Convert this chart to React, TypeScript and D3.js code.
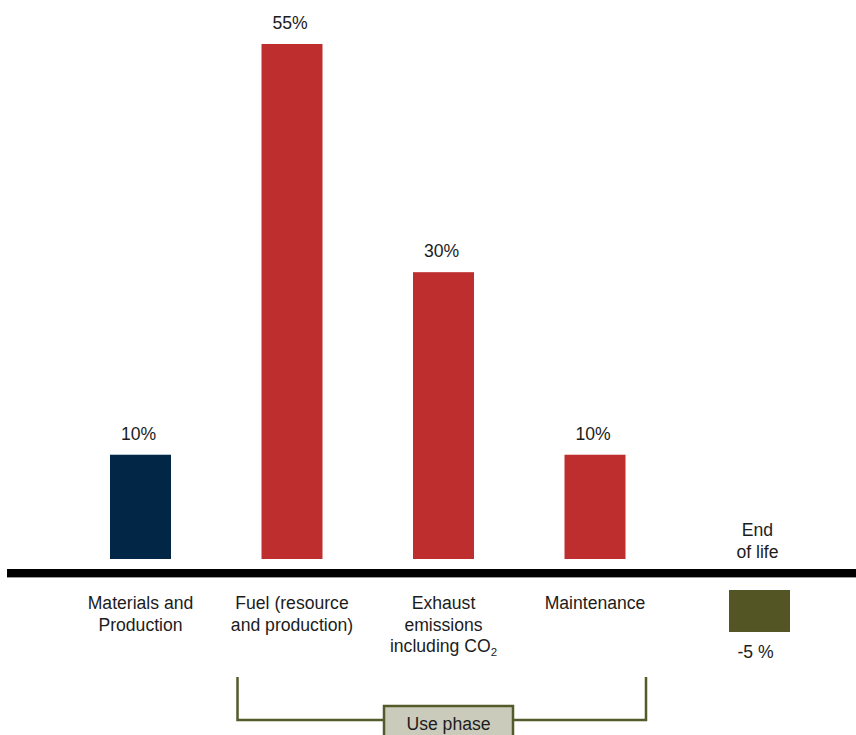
import React from "react";
import * as d3 from "d3";

const categories = ["Materials and Production", "Fuel (resource and production)", "Exhaust emissions including CO2", "Maintenance"];
const categoryLines = [["Materials and", "Production"], ["Fuel (resource", "and production)"], ["Exhaust", "emissions", "including CO"], ["Maintenance"]];
const values = [10, 55, 30, 10];
const valueLabels = ["10%", "55%", "30%", "10%"];
const barColors = ["#022646", "#bf2e2e", "#bf2e2e", "#bf2e2e"];
const endOfLifeLines = ["End", "of life"];
const endOfLifeValue = -5;
const endOfLifeLabel = "-5 %";
const phaseLabel = "Use phase";

const W = 856;
const H = 735;
const FONT = "'Liberation Sans', Arial, Helvetica, sans-serif";

export default function App() {
  const x = d3.scalePoint<string>().domain(categories).range([140.5, 595]);
  const y = d3.scaleLinear().domain([0, 55]).range([546, 44]);
  const floor = 559;
  const bw = 61;
  const axisY = 569;
  const eolX = 759.5;
  const eolTop = 590;
  const eolH = (y(0) - y(-endOfLifeValue)) * 0.92;
  const fs = 17.6;
  const lh = 21.5;
  const textColor = "#1c1c1c";
  const olive = "#545a2a";

  const bl = x(categories[1])! - 54.5;
  const br = x(categories[3])! + 51;

  return (
    <svg width={W} height={H} style={{ position: "absolute", left: 0, top: 0, background: "#fff" }} fontFamily={FONT}>
      {categories.map((c, i) => (
        <g key={c}>
          <rect x={x(c)! - bw / 2} y={y(values[i])} width={bw} height={floor - y(values[i])} fill={barColors[i]} />
          <text x={x(c)! - 2} y={y(values[i]) - 15} textAnchor="middle" fontSize={fs} fill={textColor}>
            {valueLabels[i]}
          </text>
          {categoryLines[i].map((ln, j) => (
            <text key={j} x={x(c)!} y={609 + j * lh} textAnchor="middle" fontSize={fs} fill={textColor}>
              {ln}
              {c.endsWith("CO2") && j === categoryLines[i].length - 1 ? (
                <tspan fontSize={11.5} dy={4}>2</tspan>
              ) : null}
            </text>
          ))}
        </g>
      ))}
      <rect x={7} y={axisY} width={W - 7} height={8} fill="#000" />
      <rect x={7} y={axisY + 8} width={W - 7} height={1} fill="#9a9a9a" />
      {endOfLifeLines.map((ln, j) => (
        <text key={j} x={eolX - 2} y={536 + j * lh} textAnchor="middle" fontSize={fs} fill={textColor}>
          {ln}
        </text>
      ))}
      <rect x={eolX - bw / 2} y={eolTop} width={bw} height={eolH} fill="#535525" />
      <text x={eolX - 4} y={658} textAnchor="middle" fontSize={fs} fill={textColor}>
        {endOfLifeLabel}
      </text>
      <path d={`M${bl},677 V720 H${br} V677`} fill="none" stroke={olive} strokeWidth={2.5} />
      <rect x={384} y={706} width={129} height={40} fill="#cbcbbc" stroke={olive} strokeWidth={2.5} />
      <text x={448.5} y={730} textAnchor="middle" fontSize={fs} fill={textColor}>
        {phaseLabel}
      </text>
    </svg>
  );
}
